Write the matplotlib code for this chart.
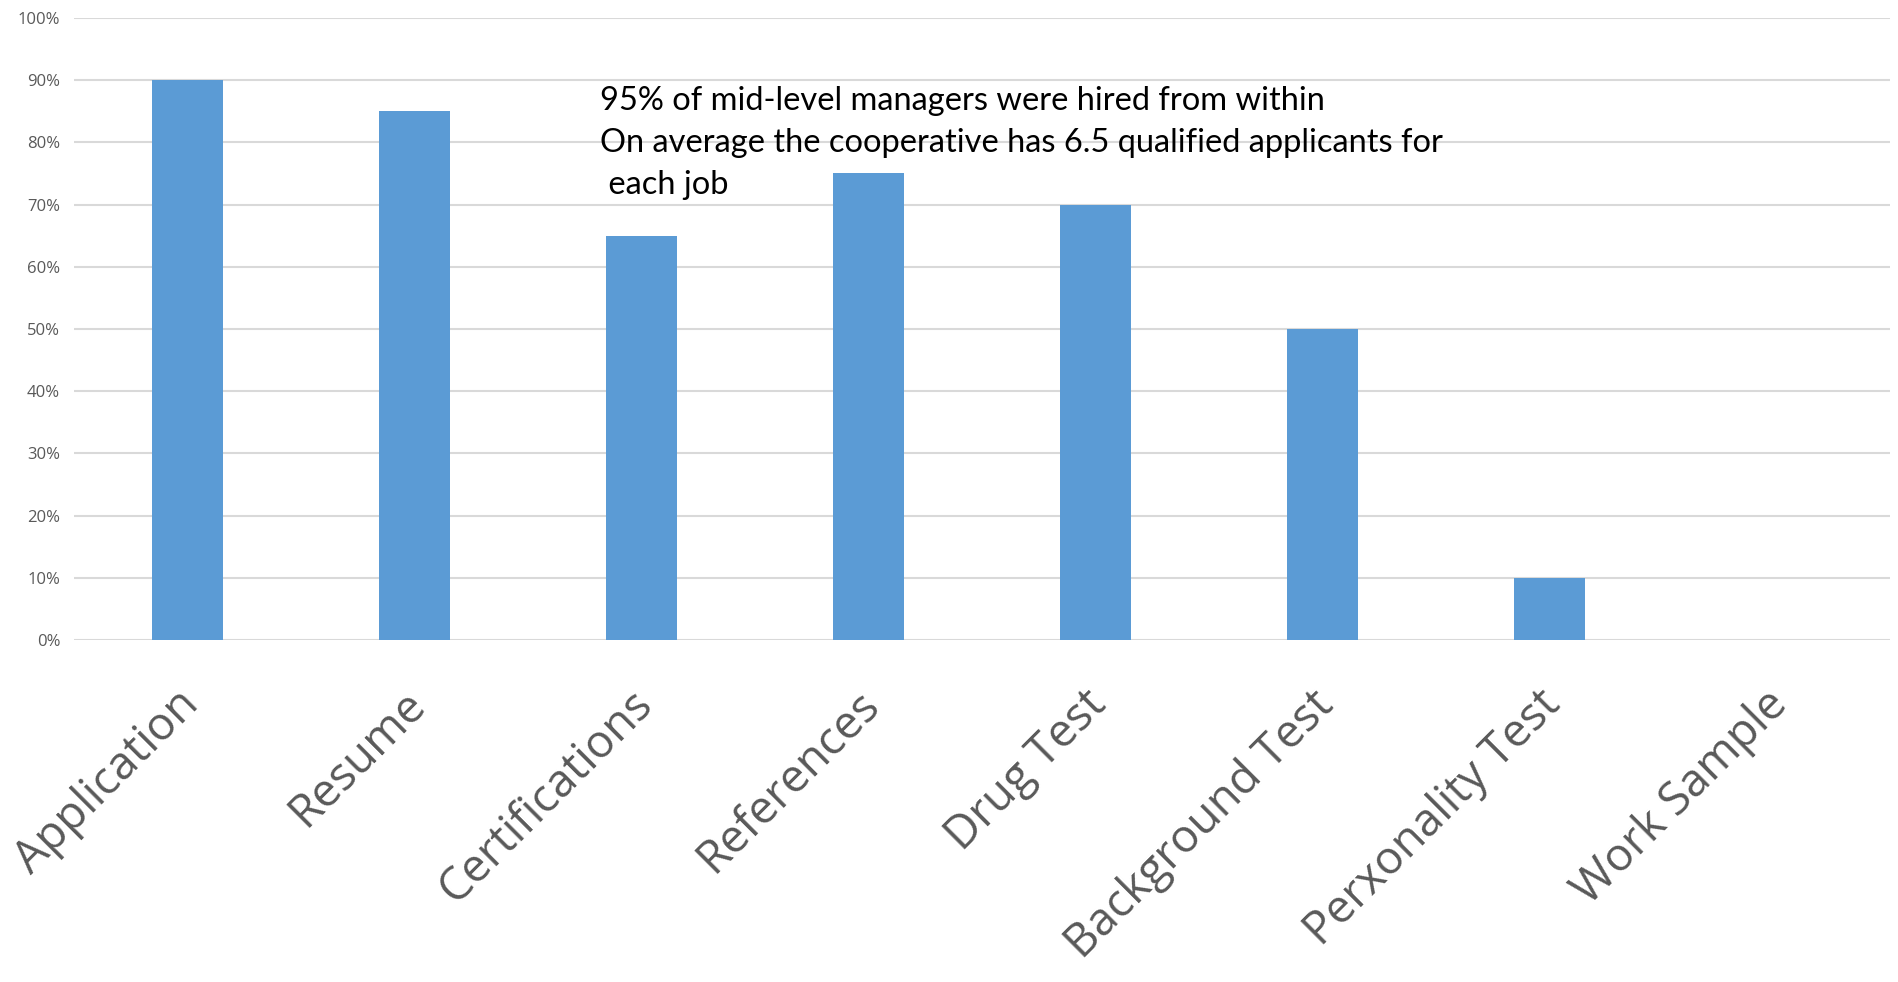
import matplotlib
matplotlib.use("Agg")
import matplotlib.pyplot as plt
import matplotlib.transforms as mtransforms
import numpy as np

# Screening methods and share of hires using each
methods = ["Application", "Resume", "Certifications", "References", "Drug Test",
           "Background Test", "Perxonality Test", "Work Sample"]
share = [90, 85, 65, 75, 70, 50, 10, 0]
y_ticks = [0, 10, 20, 30, 40, 50, 60, 70, 80, 90, 100]
note_lines = ["95% of mid-level managers were hired from within",
              "On average the cooperative has 6.5 qualified applicants for",
              " each job"]

fig = plt.figure(figsize=(18.98, 9.82), dpi=100)
ax = fig.add_axes([0.039, 0.3483, 0.9568, 0.6334])

x = np.arange(len(methods))
ax.bar(x, share, width=0.31, color="#5B9BD5", zorder=3)

ax.set_xlim(-0.5, len(methods) - 0.5)
ax.set_ylim(0, 100)
ax.set_yticks(y_ticks)
ax.set_yticklabels([f"{v}%" for v in y_ticks], fontsize=12, color="#595959",
                   family="Open Sans")
ax.yaxis.grid(True, color="#D9D9D9", linewidth=1.5, zorder=0)
ax.tick_params(axis="both", length=0)
ax.tick_params(axis="y", pad=10)

ax.set_xticks(x)
ax.set_xticklabels(methods, rotation=45, ha="right", va="top",
                   rotation_mode="anchor", fontsize=33, color="#595959",
                   family="Open Sans")
ax.tick_params(axis="x", pad=30)
shift = mtransforms.ScaledTranslation(-12 / 100, 0, fig.dpi_scale_trans)
for lbl in ax.get_xticklabels():
    lbl.set_transform(lbl.get_transform() + shift)

for s in ax.spines.values():
    s.set_visible(False)

fig.text(600 / 1898, 1 - 86 / 982, "\n".join(note_lines), fontsize=23.5,
         family="Lato", color="black", va="top", ha="left", linespacing=1.5)

fig.savefig("out.png", dpi=100)
